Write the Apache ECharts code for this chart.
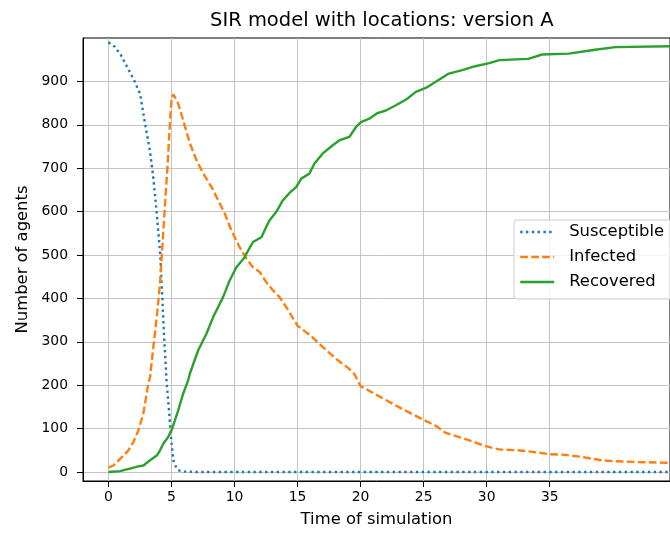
<!DOCTYPE html>
<html>
<head>
<meta charset="utf-8">
<script src="https://cdn.jsdelivr.net/npm/echarts@6/dist/echarts.min.js"></script>
<style>
html,body{margin:0;padding:0;background:#fff;}
#chart{width:670px;height:533px;}
</style>
</head>
<body>
<div id="chart"></div>
<script>
// ---- data ----
const xTicks = [0, 5, 10, 15, 20, 25, 30, 35];
const yTicks = [0, 100, 200, 300, 400, 500, 600, 700, 800, 900];

const susTime = [0, 0.5, 1, 1.5, 2, 2.5, 2.9, 3.3, 3.56, 3.77, 3.95, 4.09, 4.22, 4.4, 4.62, 4.8, 4.96, 5.14, 5.3, 5.53, 6, 7, 44.6];
const susVals = [990, 980, 960, 932, 905, 872, 803, 738, 677, 615, 554, 508, 434, 319, 204, 142, 81, 27, 15, 4, 1, 0, 0];

const infTime = [0, 0.4, 0.8, 1.2, 1.58, 2.0, 2.37, 2.77, 3.16, 3.3, 3.56, 3.83, 4.09, 4.22, 4.48, 4.69, 4.88, 5.01, 5.14, 5.3, 5.53, 5.93, 6.46, 6.99, 7.51, 8.17, 8.57, 9.23, 9.75, 10.4, 10.94, 11.46, 11.99, 12.5, 13.04, 13.57, 14.1, 15.0, 16, 17, 18, 19, 19.5, 20, 21, 22, 23, 24, 25, 26, 26.75, 28, 29.4, 30, 31, 32.5, 33.5, 35, 36, 37.5, 39.1, 40, 42, 44.6];
const infVals = [10, 15, 27, 38, 50, 70, 96, 135, 204, 219, 288, 357, 434, 495, 615, 707, 807, 861, 870, 862, 849, 810, 757, 718, 688, 657, 634, 595, 557, 518, 492, 472, 461, 438, 419, 403, 380, 337, 315, 288, 262, 240, 226, 198, 182, 166, 150, 135, 120, 106, 90, 79, 65, 59, 52, 50, 47, 41, 40, 35, 27, 25, 23, 21];

const recTime = [0, 0.92, 1.7, 2.37, 2.77, 3.3, 3.83, 4.09, 4.35, 4.74, 5.0, 5.27, 5.53, 5.93, 6.32, 6.46, 7.11, 7.78, 8.3, 8.7, 9.09, 9.62, 10.15, 10.8, 10.94, 11.46, 12.13, 12.52, 12.78, 13.3, 13.83, 14.36, 14.9, 15.29, 15.94, 16.34, 17.0, 17.79, 18.3, 19.1, 19.64, 20.03, 20.69, 21.34, 22.0, 22.8, 23.7, 24.38, 25.17, 25.96, 27.0, 28.06, 29.1, 30.2, 31, 33.3, 34.4, 36.5, 38.6, 40.2, 44.6];
const recVals = [0, 2, 8, 13, 15, 27, 38, 50, 65, 81, 96, 119, 142, 181, 211, 227, 280, 319, 357, 380, 403, 442, 472, 495, 503, 530, 541, 565, 580, 599, 626, 643, 657, 676, 688, 711, 734, 753, 764, 772, 795, 806, 814, 827, 833, 845, 860, 876, 885, 899, 918, 926, 935, 942, 949, 952, 962, 964, 973, 979, 981];

const seriesNames = ['Susceptible', 'Infected', 'Recovered'];
// ------------------------------------------------

const pairs = (ts, vs) => ts.map((t, i) => [t, vs[i]]);
const FONT = 'DejaVu Sans';
const GRID_COLOR = '#c4c4c4';

const chart = echarts.init(document.getElementById('chart'), null, {renderer: 'canvas'});
chart.setOption({
  animation: false,
  backgroundColor: '#ffffff',
  title: {
    text: 'SIR model with locations: version A',
    left: 205,
    top: 6,
    textStyle: {fontFamily: FONT, fontSize: 19.5, fontWeight: 'normal', color: '#000'}
  },
  legend: {
    left: 514,
    top: 220,
    orient: 'vertical',
    itemWidth: 34,
    itemHeight: 14,
    itemGap: 7,
    padding: [3, 12, 8, 5],
    backgroundColor: 'rgba(255,255,255,0.8)',
    borderColor: '#cccccc',
    borderWidth: 1,
    borderRadius: 3,
    itemStyle: {opacity: 0, borderWidth: 0},
    lineStyle: {width: 2.4},
    textStyle: {fontFamily: FONT, fontSize: 16.4, color: '#000', lineHeight: 18, padding: [0, 0, 0, 10]},
    data: seriesNames
  },
  grid: {
    left: 83, right: -2, top: 38, bottom: 52,
    show: true, borderColor: '#000', borderWidth: 1, backgroundColor: 'transparent'
  },
  xAxis: {
    type: 'value',
    min: -2.02,
    max: 44.54,
    name: 'Time of simulation',
    nameLocation: 'middle',
    nameGap: 31,
    nameTextStyle: {fontFamily: FONT, fontSize: 16.4, color: '#000'},
    axisLine: {show: true, onZero: false, lineStyle: {color: '#000', width: 1}},
    axisTick: {show: true, length: 6, customValues: xTicks, lineStyle: {color: '#000', width: 1}},
    axisLabel: {customValues: xTicks, margin: 9, fontFamily: FONT, fontSize: 13.9, color: '#000'},
    splitLine: {show: true, lineStyle: {color: GRID_COLOR, width: 1}}
  },
  yAxis: {
    type: 'value',
    min: -20.7,
    max: 1000,
    name: 'Number of agents',
    nameLocation: 'middle',
    nameGap: 52,
    nameTextStyle: {fontFamily: FONT, fontSize: 16.4, color: '#000'},
    axisLine: {show: true, onZero: false, lineStyle: {color: '#000', width: 1}},
    axisTick: {show: true, length: 6, customValues: yTicks, lineStyle: {color: '#000', width: 1}},
    axisLabel: {customValues: yTicks, margin: 15, fontFamily: FONT, fontSize: 13.9, color: '#000'},
    splitLine: {show: true, lineStyle: {color: GRID_COLOR, width: 1}}
  },
  series: [
    {
      name: seriesNames[0], type: 'line', symbol: 'none', showSymbol: false, clip: true,
      data: pairs(susTime, susVals),
      itemStyle: {color: '#1f77b4'},
      lineStyle: {color: '#1f77b4', width: 2.4, type: [2.4, 3.4]}
    },
    {
      name: seriesNames[1], type: 'line', symbol: 'none', showSymbol: false, clip: true,
      data: pairs(infTime, infVals),
      itemStyle: {color: '#ff7f0e'},
      lineStyle: {color: '#ff7f0e', width: 2.4, type: [7.7, 3.3]}
    },
    {
      name: seriesNames[2], type: 'line', symbol: 'none', showSymbol: false, clip: true,
      data: pairs(recTime, recVals),
      itemStyle: {color: '#2ca02c'},
      lineStyle: {color: '#2ca02c', width: 2.4, type: 'solid'}
    }
  ]
});
</script>
</body>
</html>
